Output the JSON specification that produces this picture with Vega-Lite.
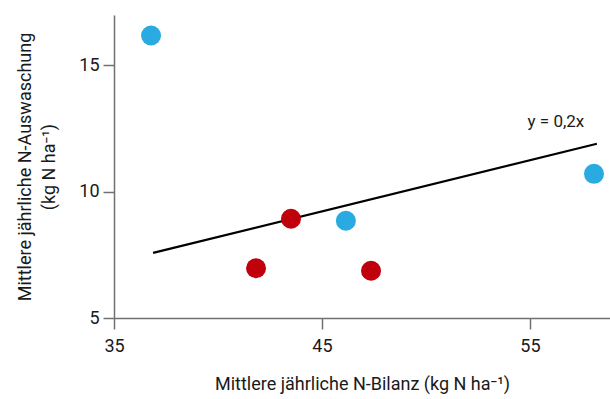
{
  "$schema": "https://vega.github.io/schema/vega-lite/v6.json",
  "autosize": {"type": "none"},
  "width": 496,
  "height": 303,
  "padding": {"left": 114, "top": 15, "right": 0, "bottom": 81},
  "background": "white",
  "config": {
    "view": {"stroke": null},
    "font": "Roboto",
    "axis": {
      "grid": false,
      "labelFlush": false,
      "domainColor": "#707070",
      "tickColor": "#707070",
      "domainWidth": 1.5,
      "tickWidth": 1.5,
      "tickSize": 11,
      "labelFont": "Roboto",
      "labelFontSize": 18,
      "labelColor": "#1a1a1a",
      "titleFont": "Roboto",
      "titleFontSize": 18,
      "titleLineHeight": 24,
      "titleFontWeight": "normal",
      "titleColor": "#1a1a1a"
    }
  },
  "datasets": {
    "pts": [
      {"bilanz": 36.78, "auswaschung": 16.19, "gruppe": "blau"},
      {"bilanz": 46.15, "auswaschung": 8.85, "gruppe": "blau"},
      {"bilanz": 58.08, "auswaschung": 10.71, "gruppe": "blau"},
      {"bilanz": 41.83, "auswaschung": 6.97, "gruppe": "rot"},
      {"bilanz": 43.51, "auswaschung": 8.93, "gruppe": "rot"},
      {"bilanz": 47.36, "auswaschung": 6.87, "gruppe": "rot"}
    ],
    "fit": [
      {"bilanz": 36.88, "auswaschung": 7.58},
      {"bilanz": 58.22, "auswaschung": 11.9}
    ],
    "label": [
      {"bilanz": 56.25, "auswaschung": 12.75, "text": "y = 0,2x"}
    ]
  },
  "layer": [
    {
      "data": {"name": "fit"},
      "mark": {"type": "line", "color": "black", "strokeWidth": 2.2},
      "encoding": {
        "x": {
          "field": "bilanz", "type": "quantitative",
          "scale": {"domain": [35, 58.85], "nice": false, "zero": false},
          "axis": {"values": [35, 45, 55], "title": "Mittlere jährliche N-Bilanz (kg N ha⁻¹)", "labelPadding": 8, "titlePadding": 20}
        },
        "y": {
          "field": "auswaschung", "type": "quantitative",
          "scale": {"domain": [5, 17], "nice": false, "zero": false},
          "axis": {"values": [5, 10, 15], "title": ["Mittlere jährliche N-Auswaschung", "(kg N ha⁻¹)"], "labelPadding": 4, "titlePadding": 20}
        }
      }
    },
    {
      "data": {"name": "pts"},
      "mark": {"type": "circle", "size": 400, "opacity": 1},
      "encoding": {
        "x": {"field": "bilanz", "type": "quantitative"},
        "y": {"field": "auswaschung", "type": "quantitative"},
        "color": {
          "field": "gruppe", "type": "nominal",
          "scale": {"domain": ["blau", "rot"], "range": ["#29abe2", "#c0000b"]},
          "legend": null
        }
      }
    },
    {
      "data": {"name": "label"},
      "mark": {"type": "text", "fontSize": 17, "color": "#1a1a1a", "align": "center", "baseline": "middle"},
      "encoding": {
        "x": {"field": "bilanz", "type": "quantitative"},
        "y": {"field": "auswaschung", "type": "quantitative"},
        "text": {"field": "text"}
      }
    }
  ]
}
